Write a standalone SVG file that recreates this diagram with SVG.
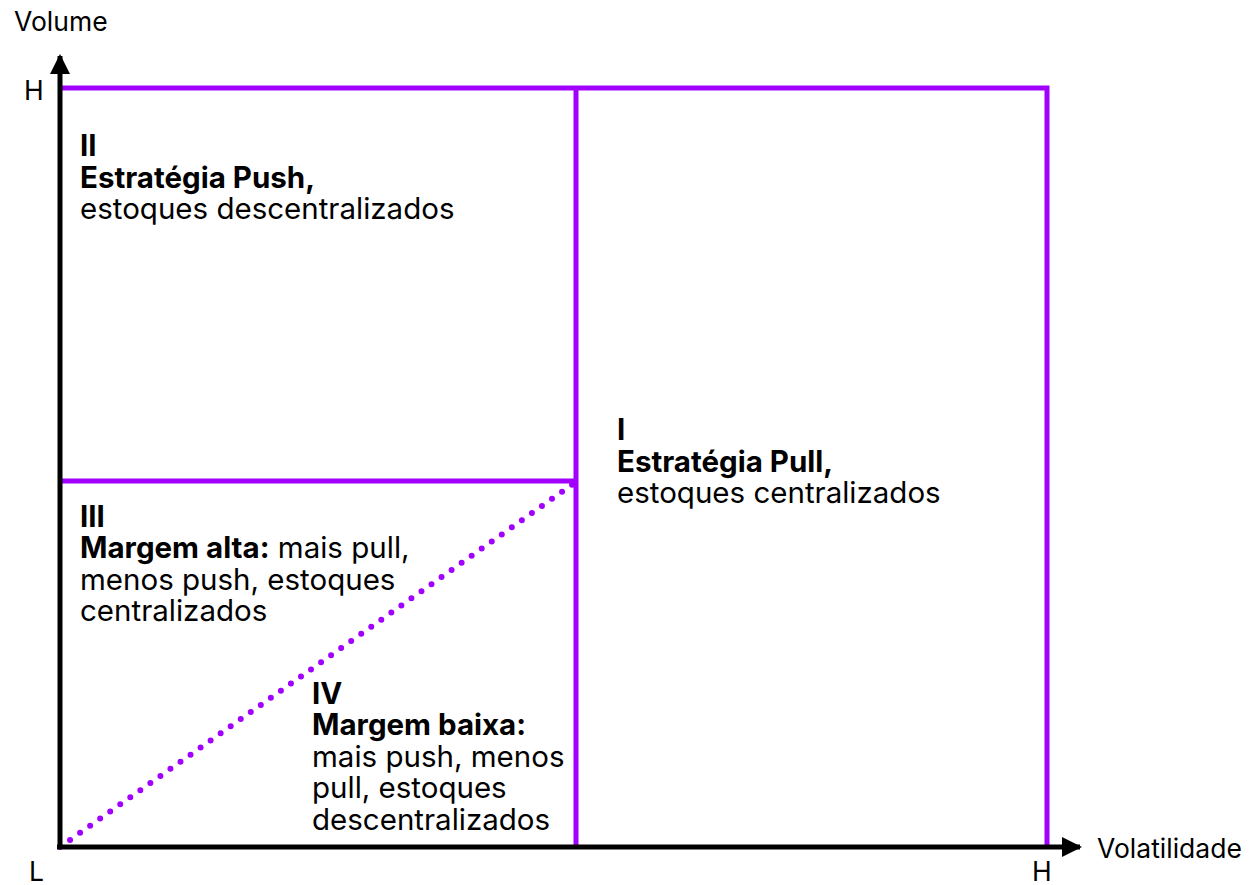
<svg xmlns="http://www.w3.org/2000/svg" width="1250" height="885" viewBox="0 0 1250 885">
<style>
  text { font-family: Inter, "Liberation Sans", sans-serif; fill: #000; }
  .lbl { font-size: 29.5px; }
  .b { font-weight: 700; }
  .ax { font-size: 26.5px; }
  .pl { stroke: #a100ff; stroke-width: 5; fill: none; }
  .axis { stroke: #000; stroke-width: 5; fill: none; }
</style>
<defs>
  <marker id="arr" viewBox="0 0 10 10" refX="9" refY="5" markerWidth="4" markerHeight="4" markerUnits="strokeWidth" orient="auto">
    <path d="M0,0 L10,5 L0,10 Z" fill="#000"/>
  </marker>
</defs>
<rect width="1250" height="885" fill="#fff"/>
<g id="grid">
  <polyline class="pl" points="60,88 1047,88 1047,847"/>
  <line class="pl" x1="576" y1="88" x2="576" y2="847"/>
  <line class="pl" x1="60" y1="481" x2="578" y2="481"/>
  <line x1="60" y1="847" x2="573" y2="484" stroke="#a100ff" stroke-width="6" stroke-linecap="round" stroke-dasharray="0 12.3"/>
</g>
<g id="axes">
  <line class="axis" x1="60" y1="849" x2="60" y2="56" marker-end="url(#arr)"/>
  <line class="axis" x1="57" y1="847" x2="1080" y2="847" marker-end="url(#arr)"/>
</g>
<g id="axis-labels">
  <text class="ax" x="14" y="31">Volume</text>
  <text class="ax" x="24" y="100">H</text>
  <text class="ax" x="29" y="881">L</text>
  <text class="ax" x="1032" y="881">H</text>
  <text class="ax" x="1097" y="858">Volatilidade</text>
</g>
<g id="q2">
  <text class="lbl b" x="80" y="156">II</text>
  <text class="lbl b" x="80" y="188">Estratégia Push,</text>
  <text class="lbl" x="80" y="219">estoques descentralizados</text>
</g>
<g id="q1">
  <text class="lbl b" x="617" y="440">I</text>
  <text class="lbl b" x="617" y="472">Estratégia Pull,</text>
  <text class="lbl" x="617" y="503">estoques centralizados</text>
</g>
<g id="q3">
  <text class="lbl b" x="80" y="527">III</text>
  <text class="lbl" x="80" y="558"><tspan class="b">Margem alta:</tspan> mais pull,</text>
  <text class="lbl" x="80" y="590">menos push, estoques</text>
  <text class="lbl" x="80" y="621">centralizados</text>
</g>
<g id="q4">
  <text class="lbl b" x="312" y="704">IV</text>
  <text class="lbl b" x="312" y="735">Margem baixa:</text>
  <text class="lbl" x="312" y="767">mais push, menos</text>
  <text class="lbl" x="312" y="798">pull, estoques</text>
  <text class="lbl" x="312" y="830">descentralizados</text>
</g>
</svg>
